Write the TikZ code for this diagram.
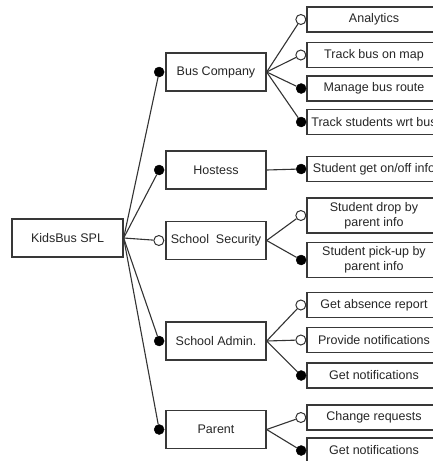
\documentclass[tikz,border=0pt]{standalone}
\usepackage{fontspec}
\setmainfont{Liberation Sans}
\usetikzlibrary{positioning}
\begin{document}
\begin{tikzpicture}[x=1pt,y=-1pt,
  box/.style={draw=black!78, line width=1.3pt, fill=white, inner sep=0pt,
    font=\fontsize{12.5}{15}\selectfont, text=black!85, align=center},
  rootbox/.style={box, minimum width=111pt, minimum height=38pt},
  midbox/.style={box, minimum width=100pt, minimum height=38pt},
  leafbox/.style={box, minimum width=134pt, minimum height=25pt},
  tallleaf/.style={leafbox, minimum height=35pt},
  mand/.style={circle, fill=black, draw=black, inner sep=0pt, minimum size=10pt},
  opt/.style={circle, fill=white, draw=black!80, line width=1pt, inner sep=0pt, minimum size=10pt},
  link/.style={draw=black!80, line width=1.1pt}]
\clip (0,0) rectangle (433,461);
\useasboundingbox (0,0) rectangle (433,461);

% root feature
\node[rootbox] (root) at (67.5,238) {KidsBus SPL};

% second level
\node[midbox] (bus)  at (216,72)    {Bus Company};
\node[midbox] (host) at (216,170)   {Hostess};
\node[midbox] (sec)  at (216,240.5) {School\ \ Security};
\node[midbox] (adm)  at (216,341)   {School Admin.};
\node[midbox] (par)  at (216,429.5) {Parent};

\node[mand, left=1pt of bus]  (dbus) {};
\node[mand, left=1pt of host] (dhost) {};
\node[opt,  left=1pt of sec]  (dsec) {};
\node[mand, left=1pt of adm]  (dadm) {};
\node[mand, left=1pt of par]  (dpar) {};

\foreach \n in {dbus,dhost,dsec,dadm,dpar}
  \draw[link] (root.east) -- (\n);

% leaf features
\node[leafbox]  (a1) at (374,19.5)  {Analytics};
\node[leafbox]  (a2) at (374,55)    {Track bus on map};
\node[leafbox]  (a3) at (374,88.5)  {Manage bus route};
\node[leafbox]  (a4) at (374,122)   {Track students wrt bus};
\node[leafbox]  (b1) at (374,169)   {Student get on/off info};
\node[tallleaf] (c1) at (374,215.5) {Student drop by\\parent info};
\node[tallleaf] (c2) at (374,260)   {Student pick-up by\\parent info};
\node[leafbox]  (e1) at (374,305)   {Get absence report};
\node[leafbox]  (e2) at (374,340)   {Provide notifications};
\node[leafbox]  (e3) at (374,375.5) {Get notifications};
\node[leafbox]  (f1) at (374,417.5) {Change requests};
\node[leafbox]  (f2) at (374,450.5) {Get notifications};

\node[opt,  left=0pt of a1] (ma1) {};
\node[opt,  left=0pt of a2] (ma2) {};
\node[mand, left=0pt of a3] (ma3) {};
\node[mand, left=0pt of a4] (ma4) {};
\node[mand, left=0pt of b1] (mb1) {};
\node[opt,  left=0pt of c1] (mc1) {};
\node[mand, left=0pt of c2] (mc2) {};
\node[opt,  left=0pt of e1] (me1) {};
\node[opt,  left=0pt of e2] (me2) {};
\node[mand, left=0pt of e3] (me3) {};
\node[opt,  left=0pt of f1] (mf1) {};
\node[mand, left=0pt of f2] (mf2) {};

\foreach \n in {ma1,ma2,ma3,ma4} \draw[link] (bus.east) -- (\n);
\draw[link] (host.east) -- (mb1);
\foreach \n in {mc1,mc2} \draw[link] (sec.east) -- (\n);
\foreach \n in {me1,me2,me3} \draw[link] (adm.east) -- (\n);
\foreach \n in {mf1,mf2} \draw[link] (par.east) -- (\n);
\end{tikzpicture}
\end{document}
